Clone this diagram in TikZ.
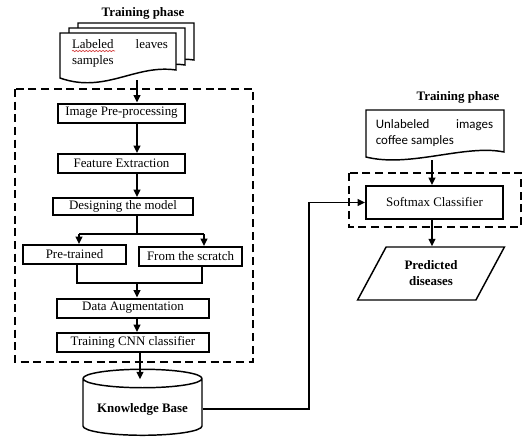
\documentclass[tikz,border=0pt]{standalone}
\usepackage{fontspec}
\setmainfont{Liberation Serif}
\newfontfamily\calfont{Carlito}
\usetikzlibrary{arrows.meta, positioning, shapes.geometric, calc, decorations.pathmorphing}
\definecolor{cink}{HTML}{000000}
\definecolor{cspell}{HTML}{D23A3A}
\tikzset{
  every picture/.style={x=0.75pt, y=-0.75pt, font=\fontsize{9.7}{12}\selectfont, line width=1.5pt},
  box/.style={draw=cink, fill=white, align=center, inner sep=1pt, minimum width=#1, minimum height=14.25pt},
  box/.default=95pt,
  arrow/.style={-{Triangle[length=5.5pt, width=5pt]}, draw=cink, line width=1.2pt},
  link/.style={draw=cink, line width=1.2pt},
  phase/.style={draw=cink, line width=1.4pt, dash pattern=on 6pt off 3.5pt},
  paper/.style={draw=cink, fill=white, line width=1.1pt},
  title/.style={font=\fontsize{9.7}{12}\selectfont\bfseries},
  doctext/.style={align=justify, inner sep=0pt, text width=#1},
}

\begin{document}
\begin{tikzpicture}
  \useasboundingbox (0,0) rectangle (524,443);
  \node[title] (ttl) at (143,13) {Training phase};
  \foreach \d in {2,1,0}
    \draw[paper, shift={(9*\d,-5*\d)}] (60,33) -- (176,33) -- (176,70) .. controls (135,64) and (105,94) .. (60,78) -- cycle;
  \node[doctext=72pt] (lab) at (120,53) {Labeled leaves\break samples};
  \draw[cspell, line width=0.5pt, decorate, decoration={snake, amplitude=0.5pt, segment length=2.5pt}] (72,51) -- (115,51);
  \coordinate (labfoot) at (137,80);
  \draw[phase] (15,89) rectangle (253,362);
  \node[box=95.25pt] (pre) at (121.5,113) {Image Pre-processing};
  \node[box=95.25pt] (feat) at (121.5,163.5) {Feature Extraction};
  \node[box=105pt, minimum height=12.75pt] (design) at (123,206.5) {Designing the model};
  \node[box=77.25pt] (pretr) at (74.5,254.5) {Pre-trained};
  \node[box=77.25pt] (scratch) at (190.5,256.5) {From the scratch};
  \node[box=114pt] (aug) at (133,308) {Data Augmentation};
  \node[box=114pt] (cnn) at (133,342.5) {Training CNN classifier};
  \node[cylinder, shape border rotate=90, aspect=0.185, draw=cink, fill=white, line width=1.1pt, minimum width=89.25pt, minimum height=49.5pt, font=\fontsize{9.7}{12}\selectfont\bfseries] (kb) at (142.5,409) {Knowledge Base};
  \coordinate (col) at (137,0);
  \coordinate (kbcol) at (140,0);
  \coordinate (pl) at (79,234);
  \coordinate (pr) at (204,234);
  \coordinate (ml) at (77,283);
  \coordinate (mr) at (202,283);
  \coordinate (bend) at (309,0);
  \draw[arrow] (labfoot) -- (pre.north -| col);
  \draw[arrow] (pre.south -| col) -- (feat.north -| col);
  \draw[arrow] (feat.south -| col) -- (design.north -| col);
  \draw[link] (design.south -| col) -- (pl -| col);
  \draw[link] (pl) -- (pr);
  \draw[arrow] (pl) -- (pretr.north -| pl);
  \draw[arrow] (pr) -- (scratch.north -| pr);
  \draw[link] (pretr.south -| ml) -- (ml) -- (mr) -- (scratch.south -| mr);
  \draw[arrow] (ml -| col) -- (aug.north -| col);
  \draw[arrow] (aug.south -| col) -- (cnn.north -| col);
  \draw[arrow] (cnn.south -| kbcol) -- ([yshift=-8pt]kb.north -| kbcol);
  \node[title] (ttr) at (458,97) {Training phase};
  \draw[paper] (366,110) -- (504,110) -- (504,152) .. controls (465,144) and (410,168) .. (366,157) -- cycle;
  \node[doctext=88pt, font=\calfont\fontsize{9.7}{12}\selectfont] (unl) at (434.5,133) {Unlabeled images\break coffee samples};
  \coordinate (unlfoot) at (432,160);
  \coordinate (rcol) at (432,0);
  \draw[phase] (349,173) rectangle (521,227);
  \node[box=102.75pt, minimum height=24.75pt] (soft) at (434.5,202.5) {Softmax Classifier};
  \node[trapezium, trapezium left angle=60, trapezium right angle=120, trapezium stretches=true, draw=cink, line width=1.1pt, minimum width=111pt, minimum height=39.75pt, align=center, font=\fontsize{9.7}{12}\selectfont\bfseries] (pred) at (431,273.5) {Predicted\\diseases};
  \draw[arrow] (unlfoot) -- (soft.north -| rcol);
  \draw[arrow] (soft.south -| rcol) -- (pred.north -| rcol);
  \draw[arrow] (kb.east) -- (kb.east -| bend) -- (soft.west -| bend) -- (soft.west);
\end{tikzpicture}
\end{document}
